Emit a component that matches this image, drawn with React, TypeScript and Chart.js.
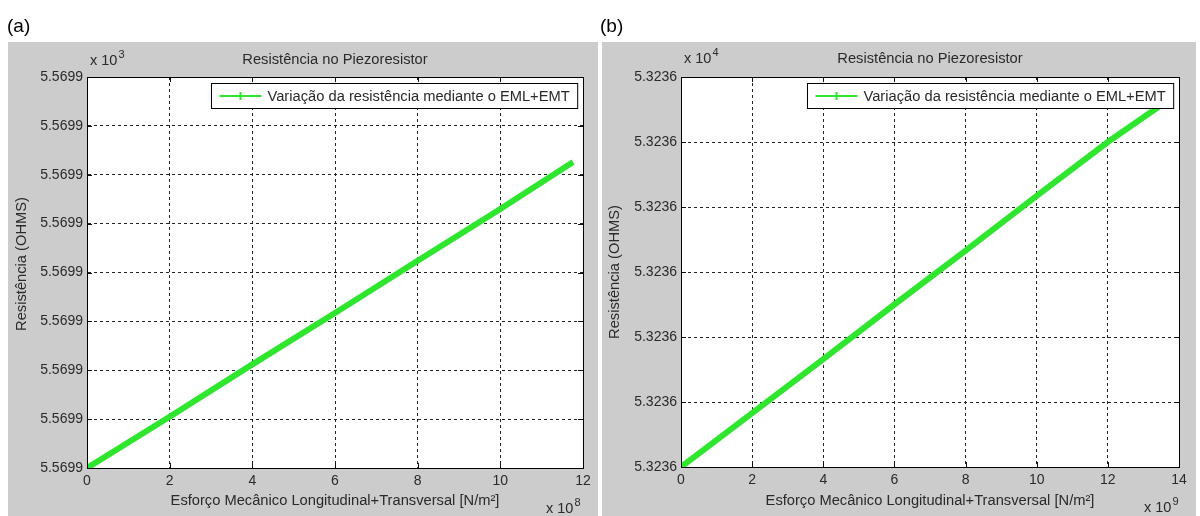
import React, { useEffect, useRef } from "react";
import { Chart, registerables } from "chart.js";

Chart.register(...registerables);

// ---------- data ----------
// Panel (a): stress in ×10^8 N/m², resistance offset in mΩ above 5569.900 Ω
const stressA = [0, 2, 4, 6, 8, 10, 11.76];
const resistA = [0, 1.05, 2.12, 3.17, 4.24, 5.3, 6.26];
const xTicksA = [0, 2, 4, 6, 8, 10, 12];
const baseA = 5569.9; // Ω
const stepA = 0.001; // Ω per y unit
const yTickCountA = 8;

// Panel (b): stress in ×10^9 N/m², resistance offset in units of 0.05 Ω above 53236.0 Ω
const stressB = [0, 2, 4, 6, 8, 10, 12, 13.45];
const resistB = [0, 0.83, 1.66, 2.5, 3.33, 4.17, 5.0, 5.55];
const xTicksB = [0, 2, 4, 6, 8, 10, 12, 14];
const baseB = 53236.0; // Ω
const stepB = 0.05;
const yTickCountB = 6;

const titleText = "Resistência no Piezoresistor";
const xTitleText = "Esforço Mecânico Longitudinal+Transversal [N/m²]";
const yTitleText = "Resistência (OHMS)";
const legendText = "Variação da resistência mediante o EML+EMT";

const FF = '"Liberation Sans", Arial, sans-serif';
const GREEN = "#2fe62f";
const TXT = "#2a2a2a";
const GRAY = "#cccccc";
const LABEL_PX = 14.7;

type Spec = {
  offset: number;
  letter: string;
  letterX: number;
  gray: [number, number, number, number];
  xs: number[];
  ys: number[];
  xTicks: number[];
  yMax: number;
  fmt: (v: number) => string;
  xExp: string;
  yExp: string;
  xExpPos: [number, number];
  yExpBaseline: number;
  titleBaseline: number;
  xTitleBaseline: number;
  yTitlePos: [number, number];
  padding: { left: number; right: number; top: number; bottom: number };
};

const specA: Spec = {
  offset: 0,
  letter: "(a)",
  letterX: 7,
  gray: [8, 42, 598, 516],
  xs: stressA,
  ys: resistA,
  xTicks: xTicksA,
  yMax: yTickCountA,
  fmt: (v) => ((baseA + v * stepA) / 1000).toFixed(4),
  xExp: "8",
  yExp: "3",
  xExpPos: [546, 513],
  yExpBaseline: 65,
  titleBaseline: 64,
  xTitleBaseline: 505,
  yTitlePos: [22, 264],
  padding: { left: 17, right: 17, top: 77, bottom: 18 },
};

const specB: Spec = {
  offset: 600,
  letter: "(b)",
  letterX: 0,
  gray: [2, 42, 596, 516],
  xs: stressB,
  ys: resistB,
  xTicks: xTicksB,
  yMax: yTickCountB,
  fmt: (v) => ((baseB + v * stepB) / 10000).toFixed(4),
  xExp: "9",
  yExp: "4",
  xExpPos: [544, 512],
  yExpBaseline: 63,
  titleBaseline: 63,
  xTitleBaseline: 505,
  yTitlePos: [15, 272],
  padding: { left: 11, right: 21, top: 77, bottom: 19 },
};

function drawExp(ctx: CanvasRenderingContext2D, x: number, baseline: number, exp: string) {
  ctx.font = `14.5px ${FF}`;
  ctx.textAlign = "left";
  ctx.textBaseline = "alphabetic";
  ctx.fillStyle = TXT;
  ctx.fillText("x 10", x, baseline);
  const w = ctx.measureText("x 10").width;
  ctx.font = `11px ${FF}`;
  ctx.fillText(exp, x + w + 1, baseline - 7);
}

function makePlugin(s: Spec) {
  return {
    id: "matlabPanel" + s.letter,
    beforeDraw(chart: any) {
      const { ctx, chartArea: a, width, height } = chart;
      ctx.save();
      ctx.fillStyle = "#ffffff";
      ctx.fillRect(0, 0, width, height);
      ctx.fillStyle = GRAY;
      const [x0, y0, x1, y1] = s.gray;
      ctx.fillRect(x0, y0, x1 - x0, y1 - y0);
      ctx.fillStyle = "#ffffff";
      ctx.fillRect(a.left, a.top, a.right - a.left, a.bottom - a.top);
      ctx.restore();
    },
    afterDraw(chart: any) {
      const { ctx, chartArea: a, scales } = chart;
      ctx.save();
      // inward tick marks
      ctx.strokeStyle = "#111";
      ctx.lineWidth = 1;
      ctx.setLineDash([]);
      const tl = 5;
      ctx.beginPath();
      for (const t of s.xTicks) {
        const px = Math.round(scales.x.getPixelForValue(t)) + 0.5;
        ctx.moveTo(px, a.bottom);
        ctx.lineTo(px, a.bottom - tl);
        ctx.moveTo(px, a.top);
        ctx.lineTo(px, a.top + tl);
      }
      for (let i = 0; i <= s.yMax; i++) {
        const py = Math.round(scales.y.getPixelForValue(i)) + 0.5;
        ctx.moveTo(a.left, py);
        ctx.lineTo(a.left + tl, py);
        ctx.moveTo(a.right, py);
        ctx.lineTo(a.right - tl, py);
      }
      ctx.stroke();
      // frame
      ctx.strokeStyle = "#000";
      ctx.strokeRect(Math.round(a.left) + 0.5, Math.round(a.top) + 0.5, Math.round(a.right - a.left), Math.round(a.bottom - a.top));

      // legend
      ctx.font = `${LABEL_PX}px ${FF}`;
      const tw = ctx.measureText(legendText).width;
      const lw = 8 + 42 + 6 + tw + 8;
      const lh = 25;
      const lx = Math.round(a.right - 6 - lw) + 0.5;
      const ly = Math.round(a.top + 6) + 0.5;
      ctx.fillStyle = "#fff";
      ctx.fillRect(lx, ly, lw, lh);
      ctx.strokeStyle = "#000";
      ctx.strokeRect(lx, ly, lw, lh);
      const my = ly + lh / 2;
      ctx.strokeStyle = GREEN;
      ctx.lineWidth = 2;
      ctx.beginPath();
      ctx.moveTo(lx + 8, my);
      ctx.lineTo(lx + 50, my);
      ctx.moveTo(lx + 29, my - 4);
      ctx.lineTo(lx + 29, my + 4);
      ctx.moveTo(lx + 25, my);
      ctx.lineTo(lx + 33, my);
      ctx.stroke();
      ctx.fillStyle = TXT;
      ctx.textAlign = "left";
      ctx.textBaseline = "middle";
      ctx.fillText(legendText, lx + 56, my + 1);

      // title
      const cx = (a.left + a.right) / 2;
      ctx.textAlign = "center";
      ctx.textBaseline = "alphabetic";
      ctx.font = `${LABEL_PX}px ${FF}`;
      ctx.fillStyle = TXT;
      ctx.fillText(titleText, cx, s.titleBaseline);
      // x title
      ctx.fillText(xTitleText, cx, s.xTitleBaseline);
      // y title
      ctx.save();
      ctx.translate(s.yTitlePos[0], s.yTitlePos[1]);
      ctx.rotate(-Math.PI / 2);
      ctx.textBaseline = "middle";
      ctx.fillText(yTitleText, 0, 0);
      ctx.restore();
      // exponents
      drawExp(ctx, a.left + 3, s.yExpBaseline, s.yExp);
      drawExp(ctx, s.xExpPos[0], s.xExpPos[1], s.xExp);
      // panel letter
      ctx.font = `19px ${FF}`;
      ctx.textAlign = "left";
      ctx.fillStyle = "#000";
      ctx.fillText(s.letter, s.letterX, 32);
      ctx.restore();
    },
  };
}

function makeConfig(s: Spec): any {
  const tickFont = { family: FF, size: 14 };
  return {
    type: "line",
    data: {
      datasets: [
        {
          data: s.xs.map((x, i) => ({ x, y: s.ys[i] })),
          borderColor: GREEN,
          borderWidth: 6,
          pointRadius: 0,
          tension: 0,
          clip: 0,
        },
      ],
    },
    options: {
      responsive: false,
      animation: false,
      layout: { padding: s.padding },
      plugins: {
        legend: { display: false },
        title: { display: false },
        tooltip: { enabled: false },
      },
      scales: {
        x: {
          type: "linear",
          min: 0,
          max: s.xTicks[s.xTicks.length - 1],
          afterBuildTicks: (sc: any) => {
            sc.ticks = s.xTicks.map((v) => ({ value: v }));
          },
          afterFit: (sc: any) => {
            sc.height = 30;
          },
          ticks: {
            autoSkip: false,
            maxRotation: 0,
            padding: 5,
            color: TXT,
            font: tickFont,
            callback: (v: any) => String(v),
          },
          grid: { color: "#222", lineWidth: 1, drawTicks: false },
          border: { display: true, color: "#000", width: 1, dash: [3, 3] },
        },
        y: {
          type: "linear",
          min: 0,
          max: s.yMax,
          afterBuildTicks: (sc: any) => {
            const t = [];
            for (let i = 0; i <= s.yMax; i++) t.push({ value: i });
            sc.ticks = t;
          },
          afterFit: (sc: any) => {
            sc.width = 70;
          },
          ticks: {
            autoSkip: false,
            padding: 4,
            color: TXT,
            font: tickFont,
            callback: (v: any) => s.fmt(Number(v)),
          },
          grid: { color: "#222", lineWidth: 1, drawTicks: false },
          border: { display: true, color: "#000", width: 1, dash: [3, 3] },
        },
      },
    },
    plugins: [makePlugin(s)],
  };
}

function Panel({ spec }: { spec: Spec }) {
  const ref = useRef<HTMLCanvasElement>(null);
  useEffect(() => {
    const chart = new Chart(ref.current as HTMLCanvasElement, makeConfig(spec));
    return () => chart.destroy();
  }, [spec]);
  return (
    <canvas
      ref={ref}
      width={600}
      height={516}
      style={{ position: "absolute", left: spec.offset, top: 0, width: 600, height: 516 }}
    />
  );
}

export default function App() {
  return (
    <div style={{ position: "fixed", left: 0, top: 0, width: 1200, height: 516, background: "#fff", overflow: "hidden" }}>
      <Panel spec={specA} />
      <Panel spec={specB} />
    </div>
  );
}
